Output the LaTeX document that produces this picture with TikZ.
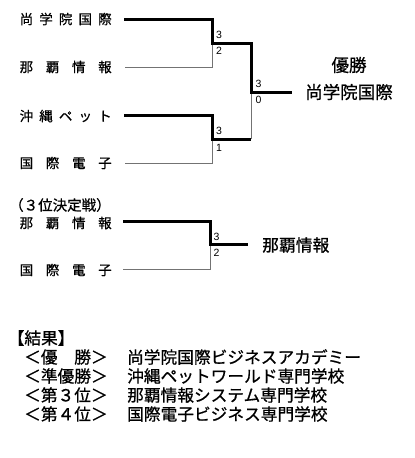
\documentclass[tikz,border=0pt]{standalone}
\usepackage{fontspec}
\setmainfont{Liberation Sans}
\newfontfamily\jp{Noto Sans CJK JP}[BoldFont={Noto Sans CJK JP},BoldFeatures={FakeBold=0.7}]
\begin{document}
\begin{tikzpicture}[x=1pt,y=-1pt,
  win/.style={line width=3pt,draw=black},
  lose/.style={line width=1pt,draw=black!55},
  sc/.style={font=\fontsize{10.5}{10.5}\selectfont,inner sep=0pt},
  team/.style={font=\jp\bfseries\fontsize{13.5}{13.5}\selectfont,inner sep=0pt,anchor=west},
  big/.style={font=\jp\bfseries\fontsize{17.5}{17.5}\selectfont,inner sep=0pt},
  res/.style={font=\jp\bfseries\fontsize{16.7}{16.7}\selectfont,inner sep=0pt,anchor=west}]
\useasboundingbox (0,0) rectangle (415,458);
% team labels
\node[team] (tA) at (19.5,19) {\makebox[92pt]{尚\hfill 学\hfill 院\hfill 国\hfill 際}};
\node[team] (tB) at (19.5,67) {\makebox[92pt]{那\hfill 覇\hfill 情\hfill 報}};
\node[team] (tC) at (19.5,116) {\makebox[92pt]{沖\hfill 縄\hfill ペ\hfill ッ\hfill ト}};
\node[team] (tD) at (19.5,163) {\makebox[92pt]{国\hfill 際\hfill 電\hfill 子}};
% coordinates
\coordinate (s1) at (124,19);
\coordinate (s2) at (125,67);
\coordinate (s3) at (124,115);
\coordinate (s4) at (125,163);
\coordinate (j1) at (212,43);
\coordinate (j2) at (212,139);
\coordinate (j3) at (251,92);
\coordinate (w) at (292,92);
% lines
\draw[lose] (s2) -| (j1);
\draw[lose] (s4) -| (j2);
\draw[lose] (j2 -| j3) -- (j3);
\draw[win] (s1) -| (j1) -| (j3) -- (w);
\draw[win] (s3) -| (j2) -- (j2 -| j3);
% scores
\node[sc] (a1) at (219,34.5) {3};
\node[sc] (a2) at (219,50.5) {2};
\node[sc] (b1) at (219,130.5) {3};
\node[sc] (b2) at (219,147.5) {1};
\node[sc] (c1) at (258.5,83.5) {3};
\node[sc] (c2) at (258.5,100) {0};
% champion
\node[big] (ch1) at (349,65) {優勝};
\node[big] (ch2) at (349,92) {尚学院国際};
% third place
\node[team,font=\jp\bfseries\fontsize{14.5}{14.5}\selectfont] (tp) at (9,205) {（３位決定戦）};
\node[team] (tE) at (19.5,223) {\makebox[92pt]{那\hfill 覇\hfill 情\hfill 報}};
\node[team] (tF) at (19.5,270) {\makebox[92pt]{国\hfill 際\hfill 電\hfill 子}};
\coordinate (t1) at (123,221);
\coordinate (t2) at (123,269);
\coordinate (j4) at (210,244);
\coordinate (tw) at (248,244);
\draw[lose] (t2) -| (j4);
\draw[win] (t1) -| (j4) -- (tw);
\node[sc] (d1) at (216.5,236.5) {3};
\node[sc] (d2) at (216.5,253) {2};
\node[res,font=\jp\bfseries\fontsize{16.8}{16.8}\selectfont] (thw) at (262,245) {那覇情報};
% results
\node[res] (r0) at (7.5,338) {【結果】};
\node[res] (r1l) at (24,357) {＜優　勝＞};
\node[res] (r1r) at (127,357) {尚学院国際ビジネスアカデミー};
\node[res] (r2l) at (24,376) {＜準優勝＞};
\node[res] (r2r) at (127,376) {沖縄ペットワールド専門学校};
\node[res] (r3l) at (24,395) {＜第３位＞};
\node[res] (r3r) at (127,395) {那覇情報システム専門学校};
\node[res] (r4l) at (24,414) {＜第４位＞};
\node[res] (r4r) at (127,414) {国際電子ビジネス専門学校};
\end{tikzpicture}
\end{document}
